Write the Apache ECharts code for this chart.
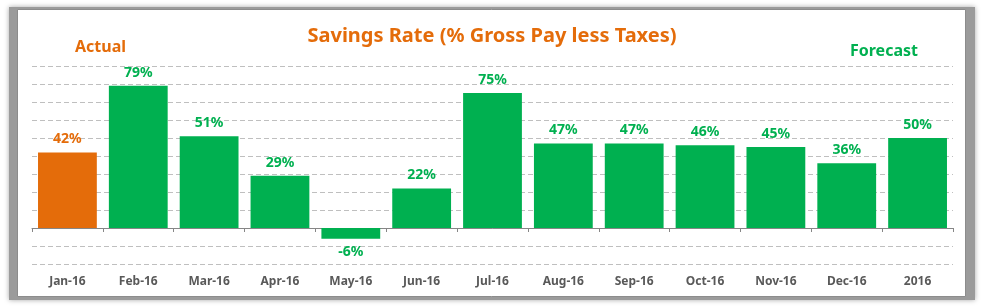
<!DOCTYPE html>
<html>
<head>
<meta charset="utf-8">
<script src="https://cdn.jsdelivr.net/npm/echarts@6/dist/echarts.min.js"></script>
<style>
  html, body { margin: 0; padding: 0; background: #fff; }
  #chart { width: 984px; height: 308px; }
</style>
</head>
<body>
<div id="chart"></div>
<script>
var months = ['Jan-16', 'Feb-16', 'Mar-16', 'Apr-16', 'May-16', 'Jun-16', 'Jul-16',
              'Aug-16', 'Sep-16', 'Oct-16', 'Nov-16', 'Dec-16', '2016'];
var rates = [42, 79, 51, 29, -6, 22, 75, 47, 47, 46, 45, 36, 50];
var actualCount = 1;

var orange = '#E46C0A';
var green = '#00B050';
var font = 'Noto Sans';

var chart = echarts.init(document.getElementById('chart'));

var barData = rates.map(function (v, i) {
    var c = i < actualCount ? orange : green;
    return {
        value: v,
        itemStyle: { color: c },
        label: { color: c, position: v < 0 ? 'bottom' : 'top' }
    };
});

chart.setOption({
    animation: false,
    title: {
        text: 'Savings Rate (% Gross Pay less Taxes)',
        left: 'center',
        top: 21,
        textStyle: { color: orange, fontFamily: font, fontWeight: 'bold', fontSize: 20 }
    },
    graphic: [
        // drop shadow frame behind the plot card
        {
            type: 'rect', z: -20, silent: true,
            shape: { x: 9, y: 7, width: 966, height: 293 },
            style: { fill: '#9b9b9b', shadowBlur: 5, shadowColor: 'rgba(0,0,0,0.35)' }
        },
        {
            type: 'rect', z: -10, silent: true,
            shape: { x: 17.5, y: 9.5, width: 948, height: 287 },
            style: { fill: '#fff', stroke: '#8c8c8c', lineWidth: 1 }
        },
        {
            type: 'text', left: 75, top: 39,
            style: { text: 'Actual', fill: orange, font: 'bold 16px "Noto Sans"' }
        },
        {
            type: 'text', left: 850, top: 43,
            style: { text: 'Forecast', fill: green, font: 'bold 16px "Noto Sans"' }
        }
    ],
    grid: { left: 32, right: 31, top: 66, bottom: 44, containLabel: false },
    xAxis: [
        {
            type: 'category',
            data: months,
            axisLine: { onZero: true, lineStyle: { color: '#868686', width: 1 } },
            axisTick: { show: true, length: 4, lineStyle: { color: '#868686' } },
            axisLabel: { show: false }
        },
        {
            type: 'category',
            data: months,
            position: 'bottom',
            axisLine: { show: false },
            axisTick: { show: false },
            axisLabel: { color: '#595959', fontFamily: font, fontWeight: 'bold', fontSize: 12, margin: 12 }
        }
    ],
    yAxis: {
        type: 'value',
        min: -20,
        max: 90,
        interval: 10,
        axisLabel: { show: false },
        axisLine: { show: false },
        axisTick: { show: false },
        splitLine: { lineStyle: { color: '#BFBFBF', type: [5, 3], width: 1 } }
    },
    series: [
        {
            type: 'bar',
            data: barData,
            barCategoryGap: '17%',
            label: {
                show: true,
                distance: 6,
                fontFamily: font,
                fontWeight: 'bold',
                fontSize: 14,
                formatter: function (p) { return p.value + '%'; }
            }
        }
    ]
});
</script>
</body>
</html>
